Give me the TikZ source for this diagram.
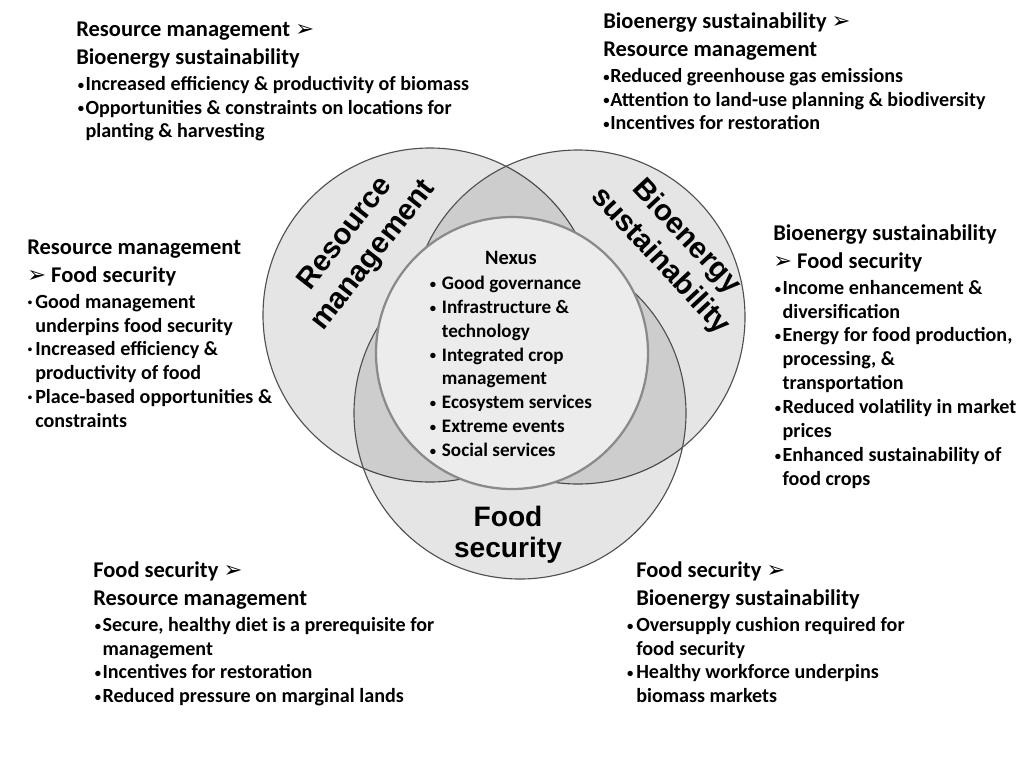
\documentclass[tikz,border=0pt]{standalone}
\usepackage{fontspec}
\setmainfont{Carlito}
\newfontfamily\labelfont{Liberation Sans}
\newfontfamily\symfont{DejaVu Sans}
\usetikzlibrary{positioning}
\definecolor{ringline}{HTML}{505050}
\definecolor{nexusfill}{HTML}{ECECEC}
\definecolor{nexusline}{HTML}{8A8A8A}

\newcommand{\hd}{\fontsize{16}{19}\selectfont}
\newcommand{\arr}{{\symfont\fontsize{16}{16}\selectfont ➢}}
\newcommand{\dotb}{\raisebox{0.8pt}{\fontsize{9}{9}\selectfont\textbullet}}
\newcommand{\bul}{\makebox[6.6pt][l]{\hspace{1.2pt}\dotb}}
\newcommand{\cont}{\hspace{6.6pt}}

\begin{document}
\begin{tikzpicture}[x=0.25mm,y=-0.25mm,
  ring/.style={fill=black,fill opacity=0.1,draw=ringline,line width=0.8pt},
  nexus/.style={fill=nexusfill,draw=nexusline,line width=1.6pt},
  ringlabel/.style={font=\labelfont\bfseries\fontsize{21}{25}\selectfont,align=center,inner sep=0pt},
  blk/.style={anchor=base west,inner sep=0pt,font=\fontsize{14.3}{17}\selectfont\bfseries}]

  \useasboundingbox (0,0) rectangle (1024,757);
  \fill[white] (0,0) rectangle (1024,757);

  % Venn circles
  \draw[ring] (430,315) circle (167);
  \draw[ring] (578,317) circle (167);
  \draw[ring] (520,413) circle (166);
  \draw[nexus] (512,353) circle (136);

  % Circle labels
  \node[ringlabel,rotate=52] (rmlabel) at (360,245) {Resource\\management};
  \node[ringlabel,rotate=-47] (bslabel) at (673,249) {Bioenergy\\sustainability};
  \node[ringlabel,font=\labelfont\bfseries\fontsize{20}{22}\selectfont] (fslabel) at (508,535) {Food\\security};

  % Nexus
  \node[blk,anchor=base,font=\fontsize{13.6}{17}\selectfont\bfseries] (nexuslist) at (511,264) {\begin{tabular}[t]{@{}l@{}}
    \multicolumn{1}{@{}c@{}}{\fontsize{14.5}{17}\selectfont Nexus}\\[1pt]
    \makebox[8.5pt][l]{\dotb}Good governance\\
    \makebox[8.5pt][l]{\dotb}Infrastructure \&\\
    \hspace{8.5pt}technology\\
    \makebox[8.5pt][l]{\dotb}Integrated crop\\
    \hspace{8.5pt}management\\
    \makebox[8.5pt][l]{\dotb}Ecosystem services\\
    \makebox[8.5pt][l]{\dotb}Extreme events\\
    \makebox[8.5pt][l]{\dotb}Social services
  \end{tabular}};

  % Resource management > Bioenergy sustainability
  \node[blk] (rmbs) at (76,36) {\begin{tabular}[t]{@{}l@{}}
    {\hd Resource management \arr}\\[3pt]
    {\hd Bioenergy sustainability}\\[1.5pt]
    \bul Increased efficiency \& productivity of biomass\\
    \bul Opportunities \& constraints on locations for\\
    \cont planting \& harvesting
  \end{tabular}};

  % Bioenergy sustainability > Resource management
  \node[blk] (bsrm) at (603,28) {\begin{tabular}[t]{@{}l@{}}
    {\hd Bioenergy sustainability \arr}\\[3pt]
    {\hd Resource management}\\[1.5pt]
    \makebox[5pt][l]{\dotb}Reduced greenhouse gas emissions\\
    \makebox[5pt][l]{\dotb}Attention to land-use planning \& biodiversity\\
    \makebox[5pt][l]{\dotb}Incentives for restoration
  \end{tabular}};

  % Resource management > Food security
  \node[blk] (rmfs) at (27,254) {\begin{tabular}[t]{@{}l@{}}
    {\hd Resource management}\\[3pt]
    {\hd \arr\ Food security}\\[1.5pt]
    \makebox[5.7pt][l]{·}Good management\\
    \hspace{5.7pt}underpins food security\\
    \makebox[5.7pt][l]{·}Increased efficiency \&\\
    \hspace{5.7pt}productivity of food\\
    \makebox[5.7pt][l]{·}Place-based opportunities \&\\
    \hspace{5.7pt}constraints
  \end{tabular}};

  % Bioenergy sustainability > Food security
  \node[blk] (bsfs) at (773,240) {\begin{tabular}[t]{@{}l@{}}
    {\hd Bioenergy sustainability}\\[3pt]
    {\hd \arr\ Food security}\\[1.5pt]
    \bul Income enhancement \&\\
    \cont diversification\\
    \bul Energy for food production,\\
    \cont processing, \&\\
    \cont transportation\\
    \bul Reduced volatility in market\\
    \cont prices\\
    \bul Enhanced sustainability of\\
    \cont food crops
  \end{tabular}};

  % Food security > Resource management
  \node[blk] (fsrm) at (93,577) {\begin{tabular}[t]{@{}l@{}}
    {\hd Food security \arr}\\[3pt]
    {\hd Resource management}\\[1.5pt]
    \bul Secure, healthy diet is a prerequisite for\\
    \cont management\\
    \bul Incentives for restoration\\
    \bul Reduced pressure on marginal lands
  \end{tabular}};

  % Food security > Bioenergy sustainability
  \node[blk] (fsbs) at (636,577) {\begin{tabular}[t]{@{}l@{}}
    {\hd Food security \arr}\\[3pt]
    {\hd Bioenergy sustainability}\\[1.5pt]
    \llap{\dotb\hspace{2pt}}Oversupply cushion required for\\
    food security\\
    \llap{\dotb\hspace{2pt}}Healthy workforce underpins\\
    biomass markets
  \end{tabular}};
\end{tikzpicture}
\end{document}
